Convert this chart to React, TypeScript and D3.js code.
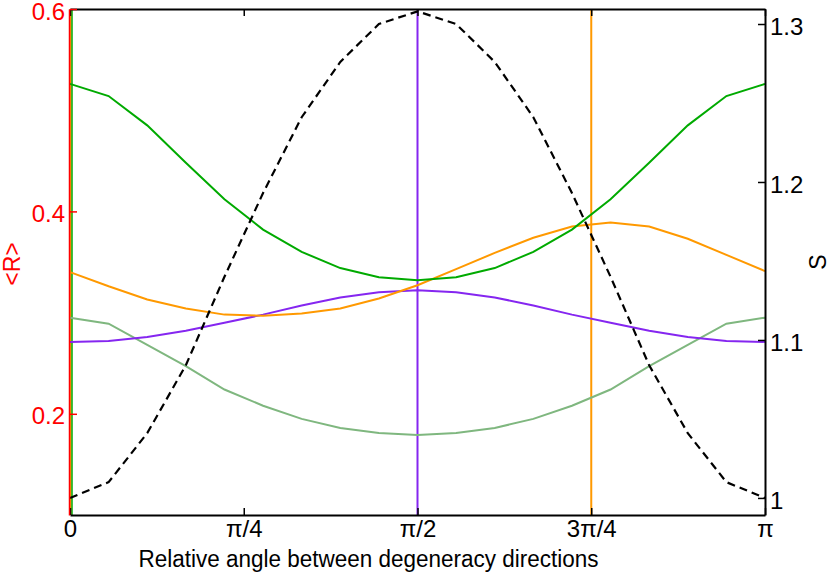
import { useEffect, useRef } from "react";
import * as d3 from "d3";

// angle samples: 0..π in 10° steps
const angleSteps = d3.range(19);
const xTicks = [0, Math.PI / 4, Math.PI / 2, (3 * Math.PI) / 4, Math.PI];
const xTickLabels = ["0", "π/4", "π/2", "3π/4", "π"];
const leftTicks = [0.2, 0.4, 0.6];
const leftTickLabels = ["0.2", "0.4", "0.6"];
const rightTicks = [1, 1.1, 1.2, 1.3];
const rightTickLabels = ["1", "1.1", "1.2", "1.3"];

// <R> curves (left axis)
const greenR = [0.526, 0.514, 0.485, 0.448, 0.412, 0.382, 0.36, 0.344, 0.335, 0.332, 0.335, 0.344, 0.36, 0.382, 0.412, 0.448, 0.485, 0.514, 0.526];
const orangeR = [0.34, 0.326, 0.313, 0.304, 0.298, 0.297, 0.299, 0.304, 0.314, 0.327, 0.343, 0.359, 0.374, 0.385, 0.389, 0.385, 0.373, 0.357, 0.341];
const purpleR = [0.271, 0.272, 0.276, 0.282, 0.29, 0.298, 0.307, 0.315, 0.32, 0.322, 0.32, 0.315, 0.307, 0.298, 0.29, 0.282, 0.276, 0.272, 0.271];
const sageR = [0.295, 0.289, 0.268, 0.247, 0.224, 0.208, 0.195, 0.186, 0.181, 0.179, 0.181, 0.186, 0.195, 0.208, 0.224, 0.247, 0.268, 0.289, 0.295];

// S curve (right axis)
const entropyS = [1.0, 1.01, 1.041, 1.084, 1.14, 1.193, 1.241, 1.276, 1.3, 1.308, 1.3, 1.276, 1.241, 1.193, 1.14, 1.084, 1.041, 1.01, 1.0];

// marked directions (vertical lines)
const markedAngles = [
  { angle: 0, color: "#ff9900" },
  { angle: Math.PI / 2, color: "#8526f0" },
  { angle: (3 * Math.PI) / 4, color: "#ff9900" },
];

const FONT = "'Liberation Sans', Arial, Helvetica, sans-serif";

export default function App() {
  const ref = useRef<SVGSVGElement>(null);

  useEffect(() => {
    document.body.style.margin = "0";
    if (!ref.current) return;

    const W = 831;
    const H = 574;
    const margin = { top: 9, right: 66, bottom: 59, left: 70 };
    const width = W - margin.left - margin.right;
    const height = H - margin.top - margin.bottom;

    const root = d3.select(ref.current);
    root.selectAll("*").remove();
    root.attr("width", W).attr("height", H);

    const svg = root
      .append("g")
      .attr("transform", `translate(${margin.left},${margin.top})`);

    const x = d3.scaleLinear().domain([0, Math.PI]).range([0, width]);
    const yL = d3.scaleLinear().domain([0.1, 0.6]).range([height, 0]);
    const yR = d3.scaleLinear().domain([0.9892, 1.3095]).range([height, 0]);

    const angles = angleSteps.map((i) => (i * Math.PI) / 18);

    // vertical marker lines
    markedAngles.forEach((m, k) => {
      svg
        .append("line")
        .attr("x1", x(m.angle) + (k === 0 ? 0.5 : 0))
        .attr("x2", x(m.angle) + (k === 0 ? 0.5 : 0))
        .attr("y1", 0)
        .attr("y2", height)
        .attr("stroke", m.color)
        .attr("stroke-width", 2);
    });
    // green line also at 0
    svg
      .append("line")
      .attr("x1", x(0) + 2)
      .attr("x2", x(0) + 2)
      .attr("y1", 0)
      .attr("y2", height)
      .attr("stroke", "#00aa00")
      .attr("stroke-width", 1.5);

    const lineL = d3
      .line<number>()
      .x((_, i) => x(angles[i]))
      .y((d) => yL(d));

    const series = [
      { values: sageR, color: "#7fb77f" },
      { values: purpleR, color: "#8526f0" },
      { values: orangeR, color: "#ff9900" },
      { values: greenR, color: "#00aa00" },
    ];

    series.forEach((s) => {
      svg
        .append("path")
        .datum(s.values)
        .attr("fill", "none")
        .attr("stroke", s.color)
        .attr("stroke-width", 2)
        .attr("d", lineL);
    });

    const lineR = d3
      .line<number>()
      .x((_, i) => x(angles[i]))
      .y((d) => yR(d));

    svg
      .append("path")
      .datum(entropyS)
      .attr("fill", "none")
      .attr("stroke", "#000")
      .attr("stroke-width", 2.2)
      .attr("stroke-dasharray", "8,5")
      .attr("d", lineR);

    // axes
    const styleAxis = (g: any, color: string) => {
      g.select(".domain").attr("stroke", color).attr("stroke-width", 2);
      g.selectAll(".tick line").attr("stroke", color).attr("stroke-width", 1.5);
      g.selectAll("text")
        .attr("fill", color)
        .style("font-family", FONT)
        .style("font-size", "24px");
    };

    svg
      .append("g")
      .call(
        d3.axisTop(x).tickValues(xTicks).tickSizeInner(-7).tickSizeOuter(0).tickFormat(() => "")
      )
      .call((g) => styleAxis(g, "#000"));

    svg
      .append("g")
      .attr("transform", `translate(0,${height})`)
      .call(
        d3
          .axisBottom(x)
          .tickValues(xTicks)
          .tickSizeInner(-7)
          .tickSizeOuter(0)
          .tickPadding(5)
          .tickFormat((_, i) => xTickLabels[i])
      )
      .call((g) => styleAxis(g, "#000"));

    const rightAxis = svg
      .append("g")
      .attr("transform", `translate(${width},0)`)
      .call(
        d3
          .axisRight(yR)
          .tickValues(rightTicks)
          .tickSizeInner(-7)
          .tickSizeOuter(0)
          .tickPadding(5)
          .tickFormat((_, i) => rightTickLabels[i])
      )
      .call((g) => styleAxis(g, "#000"));
    rightAxis.selectAll("text").attr("dy", "0.42em");

    const leftAxis = svg
      .append("g")
      .call(
        d3
          .axisLeft(yL)
          .tickValues(leftTicks)
          .tickSizeInner(-7)
          .tickSizeOuter(0)
          .tickPadding(5)
          .tickFormat((_, i) => leftTickLabels[i])
      )
      .call((g) => styleAxis(g, "#ff0000"));
    leftAxis.select(".domain").attr("stroke-width", 1.5).attr("transform", "translate(-1,0)");
    leftAxis.selectAll("text").attr("dy", "0.42em");

    // labels
    svg
      .append("text")
      .attr("x", width / 2 - 49)
      .attr("y", height + 52)
      .attr("text-anchor", "middle")
      .style("font-family", FONT)
      .style("font-size", "23px")
      .attr("textLength", 460)
      .attr("lengthAdjust", "spacingAndGlyphs")
      .text("Relative angle between degeneracy directions");

    svg
      .append("text")
      .attr("transform", `translate(${-margin.left + 20},${height / 2 + 2}) rotate(-90)`)
      .attr("text-anchor", "middle")
      .attr("fill", "#ff0000")
      .style("font-family", FONT)
      .style("font-size", "23px")
      .text("<R>");

    svg
      .append("text")
      .attr("transform", `translate(${width + 61},${height / 2}) rotate(-90)`)
      .attr("text-anchor", "middle")
      .attr("fill", "#000")
      .style("font-family", FONT)
      .style("font-size", "23px")
      .text("S");
  }, []);

  return <svg ref={ref} style={{ display: "block" }} />;
}
